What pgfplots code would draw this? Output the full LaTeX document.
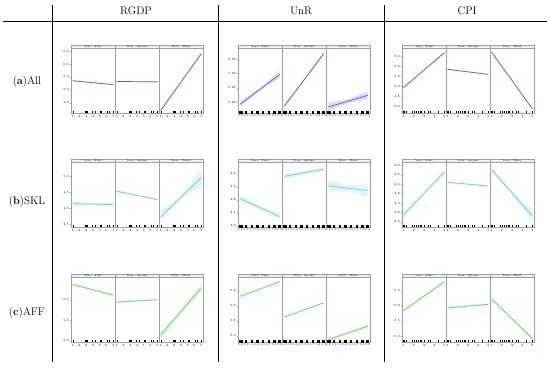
\documentclass[border=0pt]{standalone}
\usepackage{pgfplots}
\pgfplotsset{compat=1.18}
\definecolor{cA}{RGB}{95,95,225}
\definecolor{cS}{RGB}{115,205,232}
\definecolor{cF}{RGB}{85,228,85}
\pgfplotsset{
 facet/.style={scale only axis, width=44pt, height=64.5pt, anchor=south west, clip=false,
  axis line style={gray!75, line width=0.4pt}, tick style={gray!75, line width=0.3pt},
  major tick length=1.2pt, tick align=outside, xtick pos=bottom,
  /pgf/number format/assume math mode=true,
  tick label style={font=\fontsize{3.2}{3.5}\selectfont, inner sep=0.7pt},
  yticklabel style={/pgf/number format/fixed, /pgf/number format/fixed zerofill, /pgf/number format/precision=1},
  xticklabel style={/pgf/number format/fixed, /pgf/number format/fixed zerofill, /pgf/number format/precision=0}},
 band/.style={draw=none},
 eff/.style={line width=0.75pt},
 pR/.style={xmin=0.75, xmax=7.25, xtick={1,2,3,4,5,6,7}},
 pU/.style={xmin=5.16, xmax=5.94, xtick={5.2,5.3,5.4,5.5,5.6,5.7,5.8,5.9},
  xticklabel style={font=\fontsize{2.6}{2.9}\selectfont, inner xsep=0.2pt, inner ysep=0.7pt, /pgf/number format/fixed, /pgf/number format/fixed zerofill, /pgf/number format/precision=1}},
 pC/.style={xmin=0.85, xmax=5.15, xtick={1,2,3,4,5}},
 aR/.style={ymin=4.1, ymax=6.6, ytick={4.5,5,5.5,6,6.5}},
 aU/.style={ymin=5.162, ymax=5.388, ytick={5.2,5.25,5.3,5.35},
  yticklabel style={/pgf/number format/fixed, /pgf/number format/fixed zerofill, /pgf/number format/precision=2}},
 aC/.style={ymin=4.48, ymax=5.75, ytick={4.6,4.8,5,5.2,5.4,5.6}},
 sR/.style={ymin=3.41, ymax=5.43, ytick={3.5,4,4.5,5}},
 sU/.style={ymin=3.99, ymax=4.487, ytick={4,4.1,4.2,4.3,4.4}},
 sC/.style={ymin=3.49, ymax=4.86, ytick={3.6,3.8,4,4.2,4.4,4.6,4.8}},
 fR/.style={ymin=4.97, ymax=6.54, ytick={5,5.5,6}},
 fU/.style={ymin=5.52, ymax=6.375, ytick={5.6,5.8,6,6.2}},
 fC/.style={ymin=4.8, ymax=6.94, ytick={5,5.5,6,6.5}},
 f1/.style={ytick pos=left},
 f2/.style={ytick=\empty},
 f3/.style={ytick pos=right, yticklabels={}},
}
\newcommand{\fac}[5]{%
 \begin{axis}[facet, at={(#1pt,#2pt)}, #4]
 \draw[gray!75, fill=gray!12, line width=0.3pt] (rel axis cs:0,1) rectangle (rel axis cs:1,1.054);
 \node[font=\fontsize{2.5}{2.7}\selectfont, inner sep=0pt] at (rel axis cs:0.5,1.027) {Year : #3};
 #5
 \end{axis}}
\newcommand{\rugR}[1]{\addplot[only marks, mark=|, mark size=1pt, mark options={black, line width=0.35pt, yshift=1pt}] coordinates {(1,#1)(2.85,#1)(2.95,#1)(3,#1)(3.05,#1)(3.15,#1)(3.9,#1)(4.3,#1)(5,#1)(5.2,#1)(6.1,#1)(6.4,#1)(7,#1)};}
\newcommand{\rugU}[1]{\addplot[only marks, mark=square*, mark size=0.65pt, mark options={black, yshift=0.9pt}] coordinates {(5.2,#1)(5.215,#1)(5.3,#1)(5.4,#1)(5.5,#1)(5.6,#1)(5.7,#1)(5.8,#1)(5.885,#1)(5.9,#1)};}
\newcommand{\rugC}[1]{\addplot[only marks, mark=|, mark size=1pt, mark options={black, line width=0.35pt, yshift=1pt}] coordinates {(1,#1)(1.1,#1)(1.3,#1)(1.8,#1)(2.0,#1)(2.2,#1)(2.4,#1)(2.6,#1)(2.7,#1)(3.0,#1)(3.4,#1)(3.6,#1)(4.4,#1)(5,#1)};}
\begin{document}
\begin{tikzpicture}
\path[use as bounding box] (0pt,0pt) rectangle (550pt,368pt);
% table frame
\draw[line width=0.5pt] (3pt,347pt) -- (547pt,347pt);
\foreach \xx in {52,218,384} {\draw[line width=0.5pt] (\xx pt,363pt) -- (\xx pt,6pt);}
\node[font=\fontsize{11}{13}\selectfont] at (136pt,357pt) {RGDP};
\node[font=\fontsize{11}{13}\selectfont] at (301pt,357pt) {UnR};
\node[font=\fontsize{11}{13}\selectfont] at (467pt,357pt) {CPI};
\node[font=\fontsize{11}{13}\selectfont] at (27pt,286pt) {(\textbf{a})All};
\node[font=\fontsize{11}{13}\selectfont] at (27pt,166pt) {(\textbf{b})SKL};
\node[font=\fontsize{11}{13}\selectfont] at (27pt,55pt) {(\textbf{c})AFF};

% ===== Row a: All =====
\fac{71}{255}{First}{pR,aR,f1}{
 \addplot[band, fill=cA!22] coordinates {(1,5.37)(4,5.285)(7,5.22)(7,5.18)(4,5.265)(1,5.33)};
 \addplot[cA, eff] coordinates {(1,5.35)(7,5.20)};
 \rugR{4.1}}
\fac{115}{255}{Second}{pR,aR,f2}{
 \addplot[band, fill=cA!22] coordinates {(1,5.34)(4,5.325)(7,5.33)(7,5.29)(4,5.305)(1,5.30)};
 \addplot[cA, eff] coordinates {(1,5.32)(7,5.31)};
 \rugR{4.1}}
\fac{159}{255}{Third}{pR,aR,f3}{
 \addplot[band, fill=cA!22] coordinates {(1,4.25)(4,5.32)(7,6.45)(7,6.35)(4,5.28)(1,4.15)};
 \addplot[cA, eff] coordinates {(1,4.20)(7,6.40)};
 \rugR{4.1}}

\fac{238}{255}{First}{pU,aU,f1}{
 \addplot[band, fill=cA!22] coordinates {(5.2,5.202)(5.55,5.249)(5.9,5.309)(5.9,5.285)(5.55,5.241)(5.2,5.184)};
 \addplot[cA, eff] coordinates {(5.2,5.193)(5.9,5.297)};
 \rugU{5.162}}
\fac{282}{255}{Second}{pU,aU,f2}{
 \addplot[band, fill=cA!22] coordinates {(5.2,5.191)(5.55,5.281)(5.9,5.375)(5.9,5.365)(5.55,5.275)(5.2,5.181)};
 \addplot[cA, eff] coordinates {(5.2,5.186)(5.9,5.37)};
 \rugU{5.162}}
\fac{326}{255}{Third}{pU,aU,f3}{
 \addplot[band, fill=cA!22] coordinates {(5.2,5.197)(5.55,5.2105)(5.9,5.238)(5.9,5.210)(5.55,5.1965)(5.2,5.169)};
 \addplot[cA, eff] coordinates {(5.2,5.183)(5.9,5.224)};
 \rugU{5.162}}

\fac{402}{255}{First}{pC,aC,f1}{
 \addplot[band, fill=cA!22] coordinates {(1,4.992)(3,5.331)(5,5.682)(5,5.658)(3,5.319)(1,4.968)};
 \addplot[cA, eff] coordinates {(1,4.98)(5,5.67)};
 \rugC{4.48}}
\fac{446}{255}{Second}{pC,aC,f2}{
 \addplot[band, fill=cA!22] coordinates {(1,5.352)(3,5.296)(5,5.252)(5,5.228)(3,5.284)(1,5.328)};
 \addplot[cA, eff] coordinates {(1,5.34)(5,5.24)};
 \rugC{4.48}}
\fac{490}{255}{Third}{pC,aC,f3}{
 \addplot[band, fill=cA!22] coordinates {(1,5.695)(3,5.128)(5,4.58)(5,4.54)(3,5.112)(1,5.665)};
 \addplot[cA, eff] coordinates {(1,5.68)(5,4.56)};
 \rugC{4.48}}

% ===== Row b: SKL =====
\fac{71}{141}{First}{pR,sR,f1}{
 \addplot[band, fill=cS!22] coordinates {(1,4.21)(4,4.155)(7,4.17)(7,4.05)(4,4.095)(1,4.07)};
 \addplot[cS, eff] coordinates {(1,4.14)(7,4.11)};
 \rugR{3.41}}
\fac{115}{141}{Second}{pR,sR,f2}{
 \addplot[band, fill=cS!22] coordinates {(1,4.57)(4,4.42)(7,4.31)(7,4.23)(4,4.38)(1,4.49)};
 \addplot[cS, eff] coordinates {(1,4.53)(7,4.27)};
 \rugR{3.41}}
\fac{159}{141}{Third}{pR,sR,f3}{
 \addplot[band, fill=cS!22] coordinates {(1,3.93)(2.5,4.1375)(4,4.395)(5.5,4.7925)(7,5.24)(7,4.68)(5.5,4.5125)(4,4.295)(2.5,3.9375)(1,3.53)};
 \addplot[cS, eff] coordinates {(1,3.73)(7,4.96)};
 \rugR{3.41}}

\fac{238}{141}{First}{pU,sU,f1}{
 \addplot[band, fill=cS!22] coordinates {(5.2,4.237)(5.55,4.1505)(5.9,4.10)(5.9,4.04)(5.55,4.1265)(5.2,4.177)};
 \addplot[cS, eff] coordinates {(5.2,4.207)(5.9,4.07)};
 \rugU{3.99}}
\fac{282}{141}{Second}{pU,sU,f2}{
 \addplot[band, fill=cS!22] coordinates {(5.2,4.405)(5.55,4.4175)(5.9,4.455)(5.9,4.415)(5.55,4.3975)(5.2,4.355)};
 \addplot[cS, eff] coordinates {(5.2,4.38)(5.9,4.435)};
 \rugU{3.99}}
\fac{326}{141}{Third}{pU,sU,f3}{
 \addplot[band, fill=cS!22] coordinates {(5.2,4.352)(5.55,4.3085)(5.9,4.32)(5.9,4.22)(5.55,4.2685)(5.2,4.262)};
 \addplot[cS, eff] coordinates {(5.2,4.307)(5.9,4.27)};
 \rugU{3.99}}

\fac{402}{141}{First}{pC,sC,f1}{
 \addplot[band, fill=cS!22] coordinates {(1,3.83)(3,4.23)(5,4.71)(5,4.61)(3,4.18)(1,3.67)};
 \addplot[cS, eff] coordinates {(1,3.75)(5,4.66)};
 \rugC{3.49}}
\fac{446}{141}{Second}{pC,sC,f2}{
 \addplot[band, fill=cS!22] coordinates {(1,4.465)(3,4.412)(5,4.385)(5,4.335)(3,4.388)(1,4.415)};
 \addplot[cS, eff] coordinates {(1,4.44)(5,4.36)};
 \rugC{3.49}}
\fac{490}{141}{Third}{pC,sC,f3}{
 \addplot[band, fill=cS!22] coordinates {(1,4.76)(3,4.245)(5,3.87)(5,3.57)(3,4.185)(1,4.66)};
 \addplot[cS, eff] coordinates {(1,4.71)(5,3.72)};
 \rugC{3.49}}

% ===== Row c: AFF =====
\fac{71}{26}{First}{pR,fR,f1}{
 \addplot[band, fill=cF!22] coordinates {(1,6.395)(4,6.252)(7,6.135)(7,6.085)(4,6.228)(1,6.345)};
 \addplot[cF, eff] coordinates {(1,6.37)(7,6.11)};
 \rugR{4.97}}
\fac{115}{26}{Second}{pR,fR,f2}{
 \addplot[band, fill=cF!22] coordinates {(1,5.96)(4,5.98)(7,6.02)(7,5.98)(4,5.96)(1,5.92)};
 \addplot[cF, eff] coordinates {(1,5.94)(7,6.00)};
 \rugR{4.97}}
\fac{159}{26}{Third}{pR,fR,f3}{
 \addplot[band, fill=cF!22] coordinates {(1,5.23)(4,5.74)(7,6.38)(7,6.20)(4,5.69)(1,5.05)};
 \addplot[cF, eff] coordinates {(1,5.14)(7,6.29)};
 \rugR{4.97}}

\fac{238}{26}{First}{pU,fU,f1}{
 \addplot[band, fill=cF!22] coordinates {(5.2,6.134)(5.55,6.227)(5.9,6.328)(5.9,6.312)(5.55,6.219)(5.2,6.118)};
 \addplot[cF, eff] coordinates {(5.2,6.126)(5.9,6.32)};
 \rugU{5.52}}
\fac{282}{26}{Second}{pU,fU,f2}{
 \addplot[band, fill=cF!22] coordinates {(5.2,5.858)(5.55,5.949)(5.9,6.048)(5.9,6.032)(5.55,5.941)(5.2,5.842)};
 \addplot[cF, eff] coordinates {(5.2,5.85)(5.9,6.04)};
 \rugU{5.52}}
\fac{326}{26}{Third}{pU,fU,f3}{
 \addplot[band, fill=cF!22] coordinates {(5.2,5.57)(5.55,5.65)(5.9,5.75)(5.9,5.71)(5.55,5.63)(5.2,5.53)};
 \addplot[cF, eff] coordinates {(5.2,5.55)(5.9,5.73)};
 \rugU{5.52}}

\fac{402}{26}{First}{pC,fC,f1}{
 \addplot[band, fill=cF!22] coordinates {(1,5.88)(3,6.34)(5,6.84)(5,6.76)(3,6.30)(1,5.80)};
 \addplot[cF, eff] coordinates {(1,5.84)(5,6.80)};
 \rugC{4.8}}
\fac{446}{26}{Second}{pC,fC,f2}{
 \addplot[band, fill=cF!22] coordinates {(1,5.965)(3,6.01)(5,6.085)(5,6.015)(3,5.97)(1,5.895)};
 \addplot[cF, eff] coordinates {(1,5.93)(5,6.05)};
 \rugC{4.8}}
\fac{490}{26}{Third}{pC,fC,f3}{
 \addplot[band, fill=cF!22] coordinates {(1,6.27)(3,5.59)(5,4.97)(5,4.85)(3,5.55)(1,6.19)};
 \addplot[cF, eff] coordinates {(1,6.23)(5,4.91)};
 \rugC{4.8}}
\end{tikzpicture}
\end{document}
